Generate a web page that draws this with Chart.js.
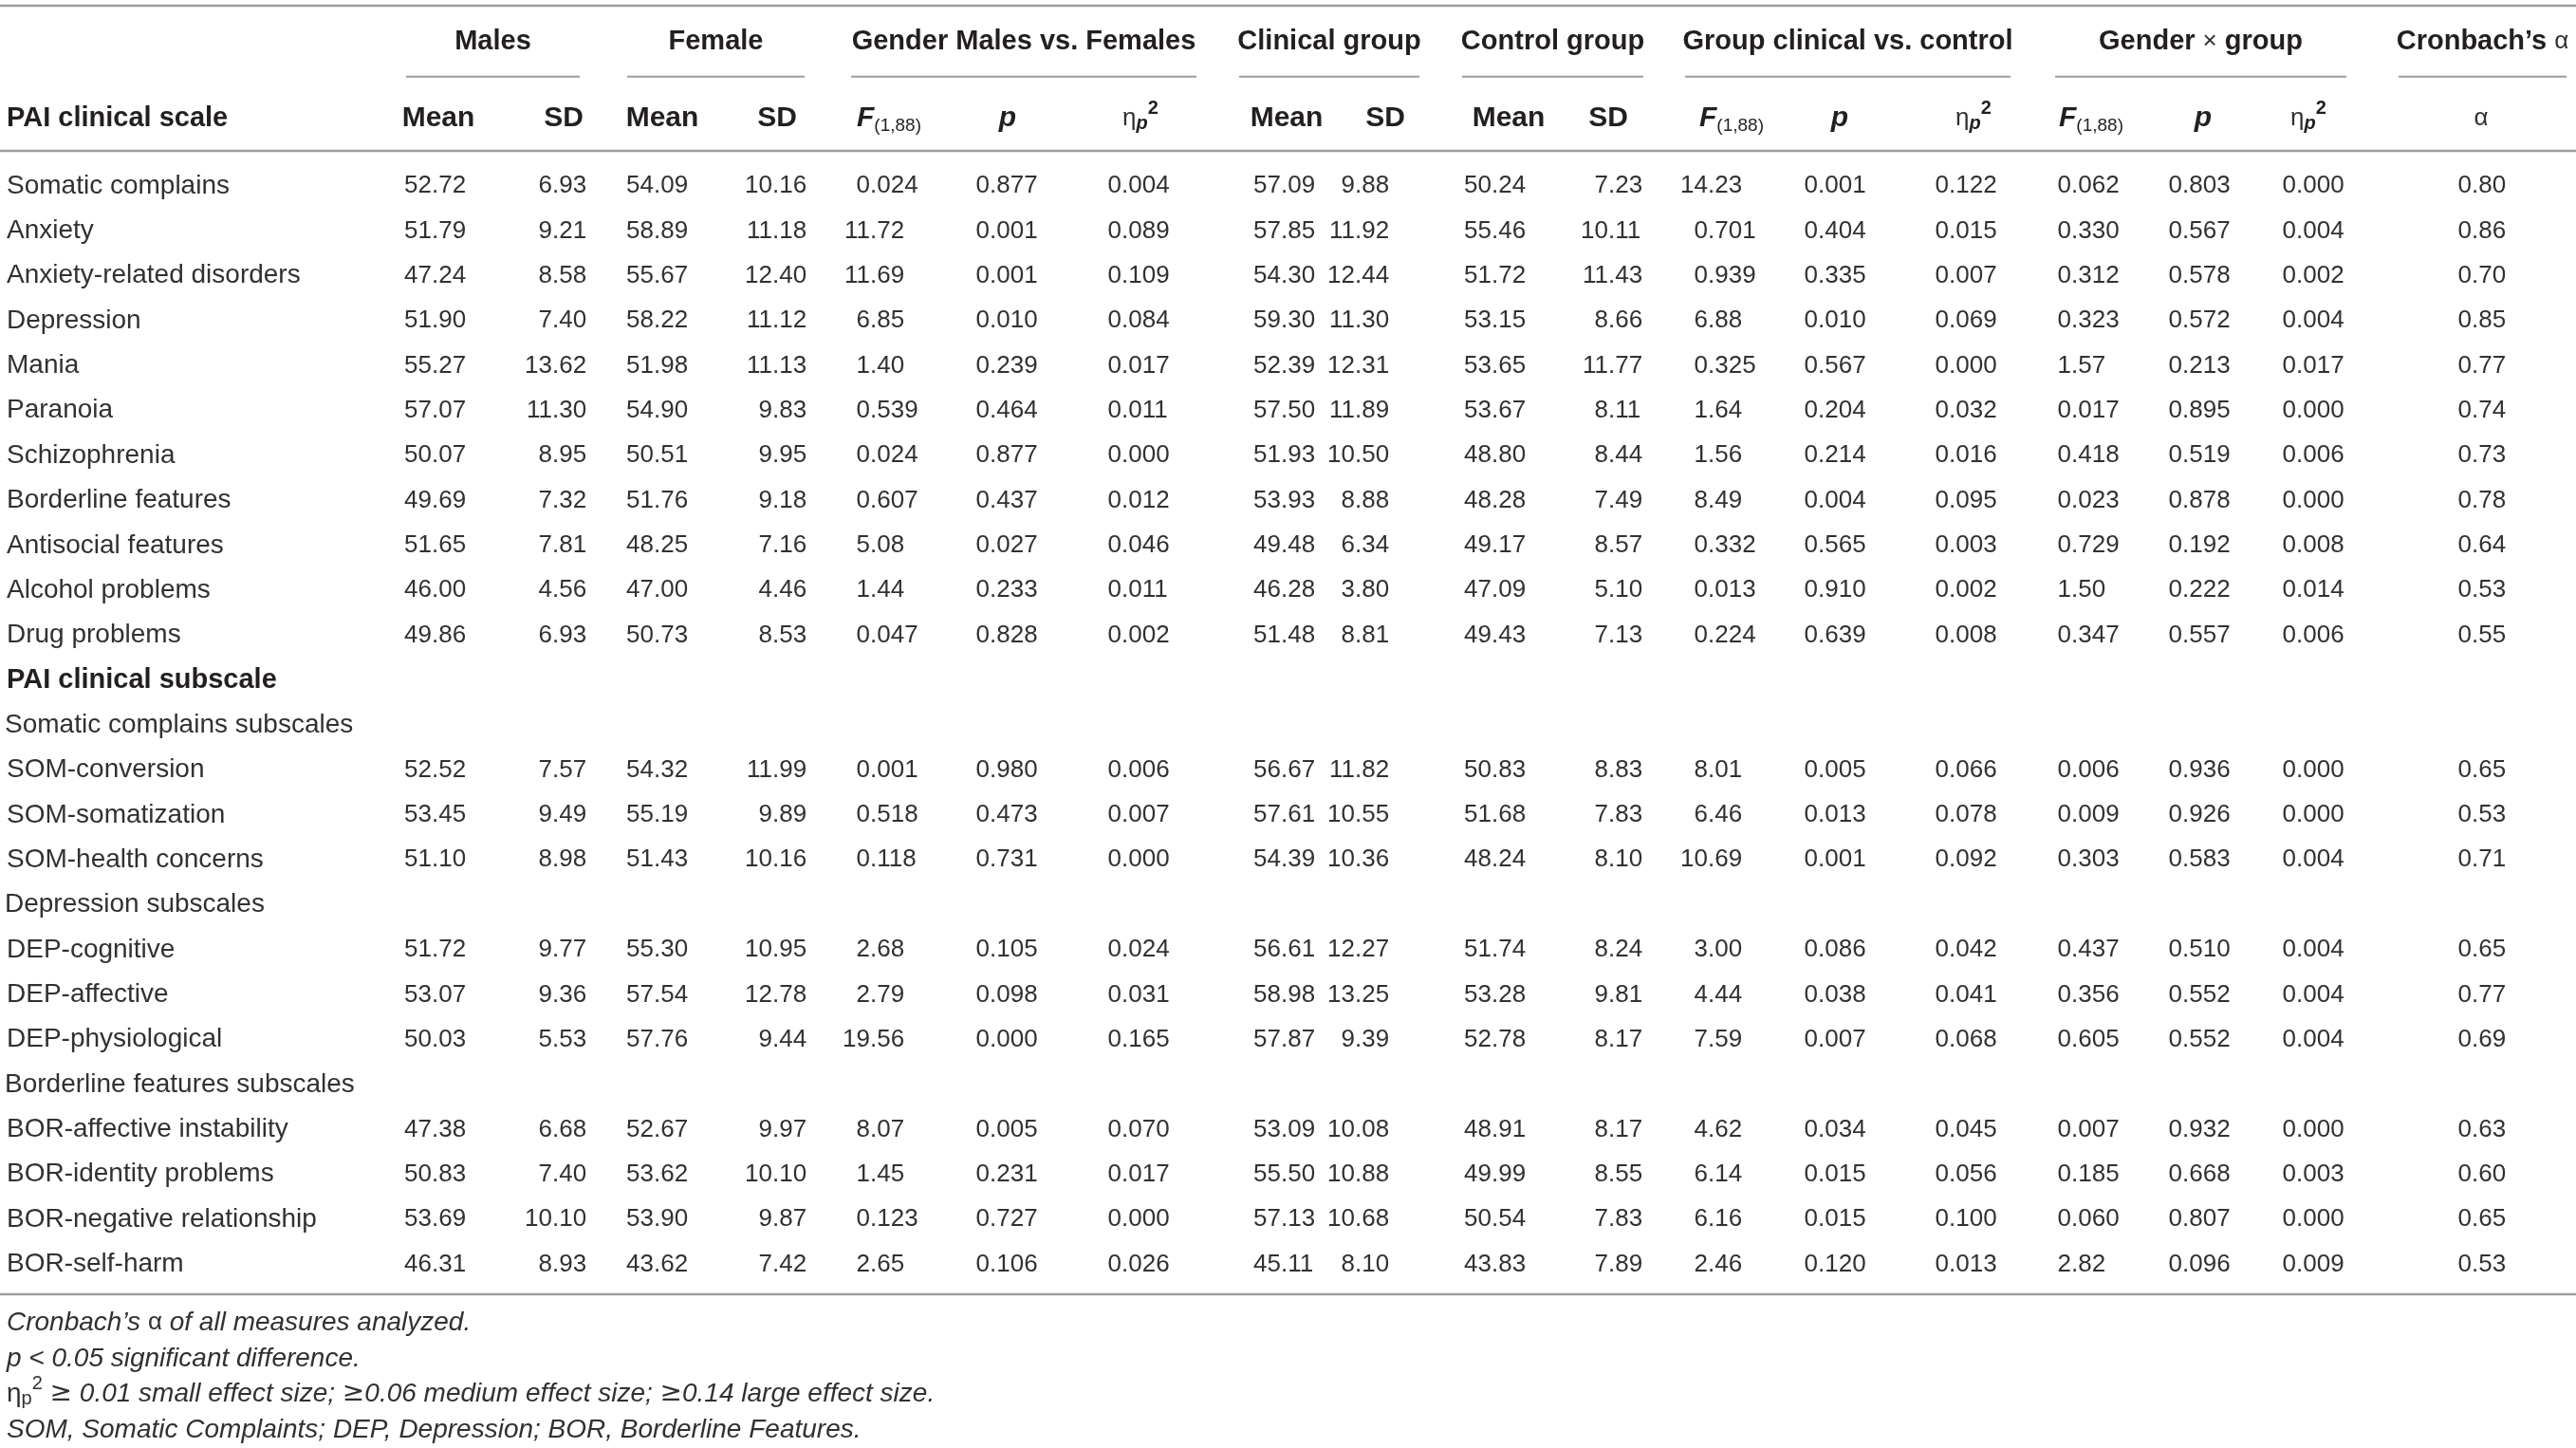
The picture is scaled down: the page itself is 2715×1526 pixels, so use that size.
<!DOCTYPE html>
<html>
<head>
<meta charset="utf-8">
<script src="https://cdn.jsdelivr.net/npm/chart.js@4.4.1/dist/chart.umd.min.js"></script>
<style>
  html, body { margin: 0; padding: 0; background: #fff; }
  canvas { display: block; }
</style>
</head>
<body>
<canvas id="tbl" width="2715" height="1526"></canvas>
<script>
// PAI table, drawn on a scatter chart: columns live on x, rows on y

const rowLabels = [
  "Somatic complains", "Anxiety", "Anxiety-related disorders", "Depression",
  "Mania", "Paranoia", "Schizophrenia", "Borderline features",
  "Antisocial features", "Alcohol problems", "Drug problems",
  "PAI clinical subscale", "Somatic complains subscales",
  "SOM-conversion", "SOM-somatization", "SOM-health concerns",
  "Depression subscales", "DEP-cognitive", "DEP-affective", "DEP-physiological",
  "Borderline features subscales", "BOR-affective instability",
  "BOR-identity problems", "BOR-negative relationship", "BOR-self-harm"
];

const n = null;
const maleMean = [52.72, 51.79, 47.24, 51.90, 55.27, 57.07, 50.07, 49.69, 51.65, 46.00, 49.86, n, n, 52.52, 53.45, 51.10, n, 51.72, 53.07, 50.03, n, 47.38, 50.83, 53.69, 46.31];
const maleSD = [6.93, 9.21, 8.58, 7.40, 13.62, 11.30, 8.95, 7.32, 7.81, 4.56, 6.93, n, n, 7.57, 9.49, 8.98, n, 9.77, 9.36, 5.53, n, 6.68, 7.40, 10.10, 8.93];
const femMean = [54.09, 58.89, 55.67, 58.22, 51.98, 54.90, 50.51, 51.76, 48.25, 47.00, 50.73, n, n, 54.32, 55.19, 51.43, n, 55.30, 57.54, 57.76, n, 52.67, 53.62, 53.90, 43.62];
const femSD = [10.16, 11.18, 12.40, 11.12, 11.13, 9.83, 9.95, 9.18, 7.16, 4.46, 8.53, n, n, 11.99, 9.89, 10.16, n, 10.95, 12.78, 9.44, n, 9.97, 10.10, 9.87, 7.42];
const genF = [0.024, 11.72, 11.69, 6.85, 1.40, 0.539, 0.024, 0.607, 5.08, 1.44, 0.047, n, n, 0.001, 0.518, 0.118, n, 2.68, 2.79, 19.56, n, 8.07, 1.45, 0.123, 2.65];
const genP = [0.877, 0.001, 0.001, 0.010, 0.239, 0.464, 0.877, 0.437, 0.027, 0.233, 0.828, n, n, 0.980, 0.473, 0.731, n, 0.105, 0.098, 0.000, n, 0.005, 0.231, 0.727, 0.106];
const genEta = [0.004, 0.089, 0.109, 0.084, 0.017, 0.011, 0.000, 0.012, 0.046, 0.011, 0.002, n, n, 0.006, 0.007, 0.000, n, 0.024, 0.031, 0.165, n, 0.070, 0.017, 0.000, 0.026];
const clinMean = [57.09, 57.85, 54.30, 59.30, 52.39, 57.50, 51.93, 53.93, 49.48, 46.28, 51.48, n, n, 56.67, 57.61, 54.39, n, 56.61, 58.98, 57.87, n, 53.09, 55.50, 57.13, 45.11];
const clinSD = [9.88, 11.92, 12.44, 11.30, 12.31, 11.89, 10.50, 8.88, 6.34, 3.80, 8.81, n, n, 11.82, 10.55, 10.36, n, 12.27, 13.25, 9.39, n, 10.08, 10.88, 10.68, 8.10];
const ctrlMean = [50.24, 55.46, 51.72, 53.15, 53.65, 53.67, 48.80, 48.28, 49.17, 47.09, 49.43, n, n, 50.83, 51.68, 48.24, n, 51.74, 53.28, 52.78, n, 48.91, 49.99, 50.54, 43.83];
const ctrlSD = [7.23, 10.11, 11.43, 8.66, 11.77, 8.11, 8.44, 7.49, 8.57, 5.10, 7.13, n, n, 8.83, 7.83, 8.10, n, 8.24, 9.81, 8.17, n, 8.17, 8.55, 7.83, 7.89];
const grpF = [14.23, 0.701, 0.939, 6.88, 0.325, 1.64, 1.56, 8.49, 0.332, 0.013, 0.224, n, n, 8.01, 6.46, 10.69, n, 3.00, 4.44, 7.59, n, 4.62, 6.14, 6.16, 2.46];
const grpP = [0.001, 0.404, 0.335, 0.010, 0.567, 0.204, 0.214, 0.004, 0.565, 0.910, 0.639, n, n, 0.005, 0.013, 0.001, n, 0.086, 0.038, 0.007, n, 0.034, 0.015, 0.015, 0.120];
const grpEta = [0.122, 0.015, 0.007, 0.069, 0.000, 0.032, 0.016, 0.095, 0.003, 0.002, 0.008, n, n, 0.066, 0.078, 0.092, n, 0.042, 0.041, 0.068, n, 0.045, 0.056, 0.100, 0.013];
const ixF = [0.062, 0.330, 0.312, 0.323, 1.57, 0.017, 0.418, 0.023, 0.729, 1.50, 0.347, n, n, 0.006, 0.009, 0.303, n, 0.437, 0.356, 0.605, n, 0.007, 0.185, 0.060, 2.82];
const ixP = [0.803, 0.567, 0.578, 0.572, 0.213, 0.895, 0.519, 0.878, 0.192, 0.222, 0.557, n, n, 0.936, 0.926, 0.583, n, 0.510, 0.552, 0.552, n, 0.932, 0.668, 0.807, 0.096];
const ixEta = [0.000, 0.004, 0.002, 0.004, 0.017, 0.000, 0.006, 0.000, 0.008, 0.014, 0.006, n, n, 0.000, 0.000, 0.004, n, 0.004, 0.004, 0.004, n, 0.000, 0.003, 0.000, 0.009];
const alpha = [0.80, 0.86, 0.70, 0.85, 0.77, 0.74, 0.73, 0.78, 0.64, 0.53, 0.55, n, n, 0.65, 0.53, 0.71, n, 0.65, 0.77, 0.69, n, 0.63, 0.60, 0.65, 0.53];

const groupHeads = ["Males", "Female", "Gender Males vs. Females", "Clinical group",
  "Control group", "Group clinical vs. control", "Gender \u00d7 group", "Cronbach\u2019s \u03b1"];
const subHeads = ["Mean", "SD", "Mean", "SD", "F", "p", "eta", "Mean", "SD", "Mean", "SD",
  "F", "p", "eta", "F", "p", "eta", "alpha"];

// ---- layout (x in canvas px units, y in row units) ----
const FONT = '"Liberation Sans", Arial, Helvetica, sans-serif';
const INK = "#231f20";
const SOFT = "#333031";
const RULE = "#9d9d9d";
const NUM = 26;
const LAB = 28;
const HEAD = 29;
const SUB = 30;
const TEXT_DY = 2;

const labelX = 7;
const boldRows = [11];
const titleRows = [12, 16, 20];

// decimal point position of each value column
const cols = [
  { vals: maleMean, dot: 455, dec: 2 }, { vals: maleSD, dot: 582, dec: 2 },
  { vals: femMean, dot: 689, dec: 2 }, { vals: femSD, dot: 814, dec: 2 },
  { vals: genF, dot: 917, dec: "auto" }, { vals: genP, dot: 1043, dec: 3 },
  { vals: genEta, dot: 1182, dec: 3 },
  { vals: clinMean, dot: 1350, dec: 2 }, { vals: clinSD, dot: 1428, dec: 2 },
  { vals: ctrlMean, dot: 1572, dec: 2 }, { vals: ctrlSD, dot: 1695, dec: 2 },
  { vals: grpF, dot: 1800, dec: "auto" }, { vals: grpP, dot: 1916, dec: 3 },
  { vals: grpEta, dot: 2054, dec: 3 },
  { vals: ixF, dot: 2183, dec: "auto" }, { vals: ixP, dot: 2300, dec: 3 },
  { vals: ixEta, dot: 2420, dec: 3 },
  { vals: alpha, dot: 2605, dec: 2 }
];
const subX = [462, 594, 698, 819, 937, 1062, 1202, 1356, 1460, 1590, 1695, 1825, 1939, 2080, 2204, 2322, 2433, 2615];
const groupSpans = [[428, 611], [661, 848], [897, 1261], [1306, 1496], [1541, 1732], [1776, 2119], [2166, 2473], [2528, 2705]];

const Y_TOP_RULE = -3.97, Y_GROUP = -3.21, Y_UNDER = -2.39, Y_SUB = -1.50, Y_HEAD_RULE = -0.74;
const Y_BOTTOM_RULE = 24.71;
const Y_NOTES = [25.30, 26.10, 26.88, 27.69];

function font(size, weight, style, fam) {
  return (style || "normal") + " " + (weight || "normal") + " " + size + "px " + (fam || FONT);
}

function fmt(v, dec) {
  if (dec === "auto") dec = v < 1 ? 3 : 2;
  return v.toFixed(dec);
}

// draws a list of text runs, each with own font and baseline shift
function runs(ctx, x, y, parts, align) {
  let w = 0;
  for (const p of parts) { ctx.font = p.font; p.w = ctx.measureText(p.t).width; w += p.w; }
  let cx = align === "center" ? x - w / 2 : align === "right" ? x - w : x;
  ctx.textAlign = "left";
  for (const p of parts) {
    ctx.font = p.font;
    ctx.fillStyle = p.color || INK;
    ctx.fillText(p.t, cx, y + (p.dy || 0));
    cx += p.w;
  }
}

function subHeadParts(kind) {
  if (kind === "F") return [
    { t: "F", font: font(SUB, "bold", "italic") },
    { t: "(1,88)", font: font(19), dy: 8 }];
  if (kind === "p") return [{ t: "p", font: font(SUB, "bold", "italic") }];
  if (kind === "eta") return [
    { t: "\u03b7", font: font(NUM), color: SOFT },
    { t: "p", font: font(20, "bold", "italic"), dy: 6 },
    { t: "2", font: font(20, "bold"), dy: -10 }];
  if (kind === "alpha") return [{ t: "\u03b1", font: font(NUM), color: SOFT }];
  return [{ t: kind, font: font(SUB, "bold") }];
}

function groupHeadParts(t) {
  if (t.endsWith("\u03b1")) return [{ t: t.slice(0, -1), font: font(HEAD, "bold") },
    { t: "\u03b1", font: font(NUM), color: SOFT }];
  const k = t.indexOf("\u00d7");
  if (k >= 0) return [{ t: t.slice(0, k), font: font(HEAD, "bold") },
    { t: "\u00d7", font: font(NUM), color: SOFT },
    { t: t.slice(k + 1), font: font(HEAD, "bold") }];
  return [{ t: t, font: font(HEAD, "bold") }];
}

// footnote text in italics, with the "≥" signs set in a wider face
function noteParts(t) {
  const it = font(LAB, "normal", "italic");
  const ge = font(LAB, "normal", "normal", '"DejaVu Sans", sans-serif');
  return t.split(/(\u2265)/).filter(s => s.length).map(s => ({
    t: s, font: s === "\u2265" ? ge : it, color: SOFT
  }));
}

function hline(ctx, xs, y, x0, x1, w) {
  ctx.beginPath();
  ctx.lineWidth = w;
  ctx.strokeStyle = RULE;
  ctx.moveTo(xs.getPixelForValue(x0), y);
  ctx.lineTo(xs.getPixelForValue(x1), y);
  ctx.stroke();
}

const tablePlugin = {
  id: "tablePlugin",
  afterDatasetsDraw(chart) {
    const ctx = chart.ctx;
    const xs = chart.scales.x, ys = chart.scales.y;
    ctx.save();

    // rules
    hline(ctx, xs, ys.getPixelForValue(Y_TOP_RULE), 0, 2715, 2.5);
    hline(ctx, xs, ys.getPixelForValue(Y_HEAD_RULE), 0, 2715, 2.5);
    hline(ctx, xs, ys.getPixelForValue(Y_BOTTOM_RULE), 0, 2715, 2.5);
    for (const [a, b] of groupSpans) hline(ctx, xs, ys.getPixelForValue(Y_UNDER), a, b, 2);

    ctx.translate(0, TEXT_DY);
    ctx.textBaseline = "middle";

    // headers
    groupHeads.forEach((t, i) => {
      const cx = (groupSpans[i][0] + groupSpans[i][1]) / 2;
      runs(ctx, xs.getPixelForValue(cx), ys.getPixelForValue(Y_GROUP), groupHeadParts(t), "center");
    });
    runs(ctx, xs.getPixelForValue(labelX), ys.getPixelForValue(Y_SUB),
      [{ t: "PAI clinical scale", font: font(HEAD, "bold") }], "left");
    subHeads.forEach((k, i) => {
      runs(ctx, xs.getPixelForValue(subX[i]), ys.getPixelForValue(Y_SUB), subHeadParts(k), "center");
    });

    // cells
    chart.data.datasets.forEach((ds, di) => {
      const meta = chart.getDatasetMeta(di);
      meta.data.forEach((el, j) => {
        const pt = ds.data[j];
        if (ds.kind === "label") {
          const bold = boldRows.includes(pt.y);
          ctx.font = bold ? font(HEAD, "bold") : font(LAB);
          ctx.fillStyle = bold ? INK : SOFT;
          ctx.textAlign = "left";
          ctx.fillText(pt.t, el.x, el.y);
        } else {
          const s = fmt(pt.v, ds.dec);
          const k = s.indexOf(".");
          ctx.font = font(NUM);
          ctx.fillStyle = SOFT;
          ctx.textAlign = "right";
          ctx.fillText(s.slice(0, k), el.x, el.y);
          ctx.textAlign = "left";
          ctx.fillText(s.slice(k), el.x, el.y);
        }
      });
    });

    // notes
    const it = font(LAB, "normal", "italic");
    const nx = xs.getPixelForValue(labelX);
    runs(ctx, nx, ys.getPixelForValue(Y_NOTES[0]), [
      { t: "Cronbach\u2019s ", font: it, color: SOFT }, { t: "\u03b1", font: font(NUM), color: SOFT },
      { t: " of all measures analyzed.", font: it, color: SOFT }], "left");
    runs(ctx, nx, ys.getPixelForValue(Y_NOTES[1]), noteParts("p < 0.05 significant difference."), "left");
    runs(ctx, nx, ys.getPixelForValue(Y_NOTES[2]), [
      { t: "\u03b7", font: font(LAB), color: SOFT }, { t: "p", font: font(20), dy: 6, color: SOFT },
      { t: "2", font: font(20), dy: -10, color: SOFT }]
      .concat(noteParts(" \u2265 0.01 small effect size; \u22650.06 medium effect size; \u22650.14 large effect size.")), "left");
    runs(ctx, nx, ys.getPixelForValue(Y_NOTES[3]),
      noteParts("SOM, Somatic Complaints; DEP, Depression; BOR, Borderline Features."), "left");

    ctx.restore();
  }
};

const datasets = [];
datasets.push({
  kind: "label",
  data: rowLabels.map((t, i) => ({ x: titleRows.includes(i) ? labelX - 2 : labelX, y: i, t: t }))
});
for (const c of cols) {
  datasets.push({
    kind: "num",
    dec: c.dec,
    data: c.vals.map((v, i) => (v === null ? null : { x: c.dot, y: i, v: v })).filter(Boolean)
  });
}

new Chart(document.getElementById("tbl"), {
  type: "scatter",
  data: { datasets: datasets },
  options: {
    responsive: false,
    animation: false,
    devicePixelRatio: 1,
    layout: { padding: 0 },
    elements: { point: { radius: 0, hoverRadius: 0 } },
    plugins: { legend: { display: false }, tooltip: { enabled: false } },
    events: [],
    scales: {
      x: { type: "linear", min: 0, max: 2715, display: false },
      y: { type: "linear", min: -4.097, max: 28.13, reverse: true, display: false }
    }
  },
  plugins: [tablePlugin]
});
</script>
</body>
</html>
